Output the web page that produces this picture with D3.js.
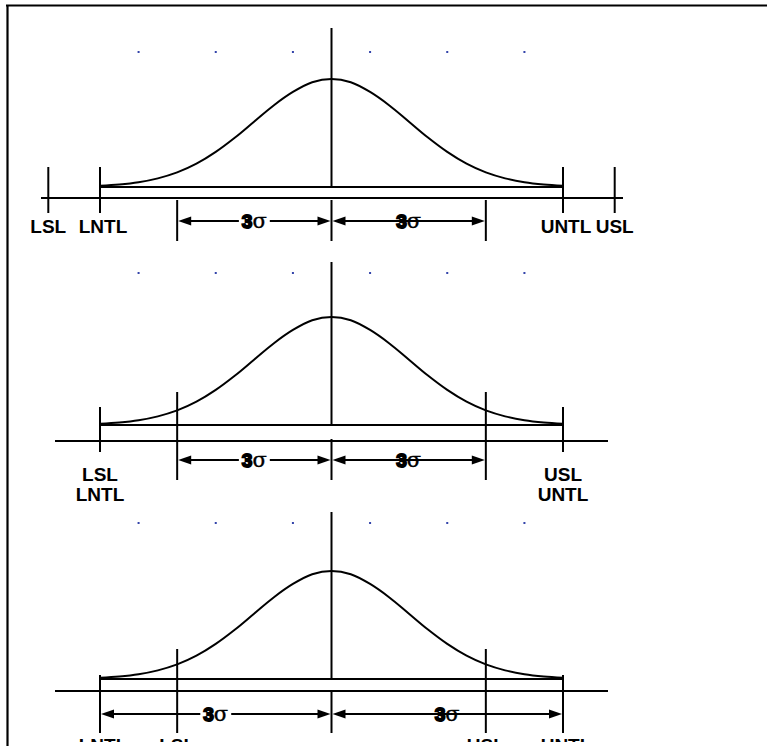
<!DOCTYPE html>
<html>
<head>
<meta charset="utf-8">
<script src="https://cdn.jsdelivr.net/npm/d3@7.9.0/dist/d3.min.js"></script>
<style>
html, body { margin: 0; padding: 0; background: #fff; }
svg { display: block; }
.lbl { font-family: "Liberation Sans", Arial, sans-serif; font-weight: bold; font-size: 19px; fill: #000; }
</style>
</head>
<body>
<svg id="chart" width="767" height="746"></svg>
<script>
const curveSigma  = [0, 0.25, 0.5, 0.75, 1, 1.25, 1.5, 1.75, 2, 2.25, 2.5, 2.75, 3];
const curveHeight = [1, 0.97, 0.88, 0.755, 0.607, 0.458, 0.325, 0.216, 0.135, 0.08, 0.044, 0.023, 0.011];

// faint blue dots above each curve (sigma units)
const gridDots = [-2.5, -1.5, -0.5, 0.5, 1.5, 2.5];

// three cases, all in sigma units of the drawn curve
const panelNames = ["spec wider than NTL", "spec equal to NTL", "spec inside NTL"];
const specLimits = [[-3.67, 3.67], [-3, 3], [-2, 2]];
const ntlLimits  = [[-3, 3], [-3, 3], [-3, 3]];
const dimSpan    = [2, 2, 3];
const lowLabels  = ["LSL", "LNTL"];
const highLabels = ["USL", "UNTL"];
const dimText    = ["3", "σ"];

// page layout for each panel (pixels)
const layout = [
  {dotY: 52,  lineTop: 28,  base: 187, axis: 198, axisX: [41, 623], arrowY: 221,
   ntlTick: [167, 213], specTick: [167, 213], dim: [200, 241], ext: [200, 241], labelY: 233},
  {dotY: 273, lineTop: 262, base: 425, axis: 441, axisX: [55, 608], arrowY: 460,
   ntlTick: [407, 452], specTick: [407, 452], dim: [392, 480], ext: [439, 480], labelY: 481},
  {dotY: 523, lineTop: 512, base: 679, axis: 691, axisX: [55, 608], arrowY: 714,
   ntlTick: [675, 733], specTick: [649, 733], dim: [675, 733], ext: [690, 733], labelY: 752}
];

const svg = d3.select("#chart");
const x = d3.scaleLinear().domain([-3, 3]).range([100, 563]);
const peakPx = 108;

svg.append("defs").append("clipPath").attr("id", "pageClip")
  .append("rect").attr("x", 0).attr("y", 0).attr("width", 767).attr("height", 742);

// frame (only top and left edges show)
svg.append("line").attr("x1", 6).attr("x2", 767).attr("y1", 5.5).attr("y2", 5.5)
  .attr("stroke", "#000").attr("stroke-width", 2.2);
svg.append("line").attr("x1", 7.5).attr("x2", 7.5).attr("y1", 5).attr("y2", 746)
  .attr("stroke", "#000").attr("stroke-width", 2.2);

// full symmetric curve points
const curvePts = curveSigma.slice().reverse().map((s, i) => [-s, curveHeight[curveSigma.length - 1 - i]])
  .concat(curveSigma.slice(1).map((s, i) => [s, curveHeight[i + 1]]));

function vline(g, xv, ys) {
  g.append("line").attr("x1", x(xv)).attr("x2", x(xv)).attr("y1", ys[0]).attr("y2", ys[1])
    .attr("stroke", "#000").attr("stroke-width", 2);
}
function hline(g, x1, x2, yv) {
  g.append("line").attr("x1", x1).attr("x2", x2).attr("y1", yv).attr("y2", yv)
    .attr("stroke", "#000").attr("stroke-width", 2);
}

function drawDim(g, a, b, yv) {
  const x1 = x(a) + 1, x2 = x(b) - 1;
  hline(g, x1 + 10, x2 - 10, yv);
  g.append("path").attr("d", `M${x1},${yv}L${x1 + 13},${yv - 4.5}L${x1 + 13},${yv + 4.5}Z`).attr("fill", "#000");
  g.append("path").attr("d", `M${x2},${yv}L${x2 - 13},${yv - 4.5}L${x2 - 13},${yv + 4.5}Z`).attr("fill", "#000");
  const t = g.append("text").attr("x", (x1 + x2) / 2).attr("y", yv + 7).attr("text-anchor", "middle");
  t.append("tspan").text(dimText[0])
    .attr("font-family", "Liberation Sans, Arial, sans-serif").attr("font-weight", "bold")
    .attr("font-size", 19).attr("stroke", "#000").attr("stroke-width", 1.8);
  t.append("tspan").text(dimText[1])
    .attr("font-family", "DejaVu Serif, serif").attr("font-size", 21)
    .attr("stroke", "#000").attr("stroke-width", 0.4);
  const bb = t.node().getBBox();
  g.insert("rect", "text").attr("x", bb.x - 3).attr("y", yv - 3).attr("width", bb.width + 6).attr("height", 6)
    .attr("fill", "#fff");
}

panelNames.forEach((name, p) => {
  const L = layout[p];
  const g = svg.append("g").attr("class", "panel").attr("data-name", name);
  const y = d3.scaleLinear().domain([0, 1]).range([L.base, L.base - peakPx]);

  // dots
  g.selectAll("rect.dot").data(gridDots).join("rect").attr("class", "dot")
    .attr("x", d => x(d) - 1).attr("y", L.dotY - 1).attr("width", 2).attr("height", 2)
    .attr("fill", "#3344aa");

  // axis and curve base
  hline(g, L.axisX[0], L.axisX[1], L.axis);
  hline(g, x(-3), x(3), L.base);

  // centre line and its extension
  vline(g, 0, [L.lineTop, L.base]);
  vline(g, 0, L.ext);

  // NTL and spec ticks
  ntlLimits[p].forEach(v => vline(g, v, L.ntlTick));
  specLimits[p].forEach(v => vline(g, v, L.specTick));

  // dimension extension lines
  [-dimSpan[p], dimSpan[p]].forEach(v => vline(g, v, L.dim));

  // curve
  g.append("path").datum(curvePts)
    .attr("d", d3.line().x(d => x(d[0])).y(d => y(d[1])).curve(d3.curveCatmullRom))
    .attr("fill", "none").attr("stroke", "#000").attr("stroke-width", 2);

  // dimension arrows
  drawDim(g, -dimSpan[p], 0, L.arrowY);
  drawDim(g, 0, dimSpan[p], L.arrowY);

  // limit labels, stacked when they share a position
  const marks = [
    {v: specLimits[p][0], t: lowLabels[0]}, {v: ntlLimits[p][0], t: lowLabels[1]},
    {v: specLimits[p][1], t: highLabels[0]}, {v: ntlLimits[p][1], t: highLabels[1]}
  ];
  const groups = d3.groups(marks, d => d.v);
  const lg = g.append("g").attr("clip-path", "url(#pageClip)");
  groups.forEach(([v, items]) => {
    items.forEach((it, i) => {
      lg.append("text").attr("class", "lbl")
        .attr("x", x(v) + (items.length === 1 && it.t.length === 4 ? 3 : 0))
        .attr("y", L.labelY + i * 20).attr("text-anchor", "middle").text(it.t);
    });
  });
});
</script>
</body>
</html>
